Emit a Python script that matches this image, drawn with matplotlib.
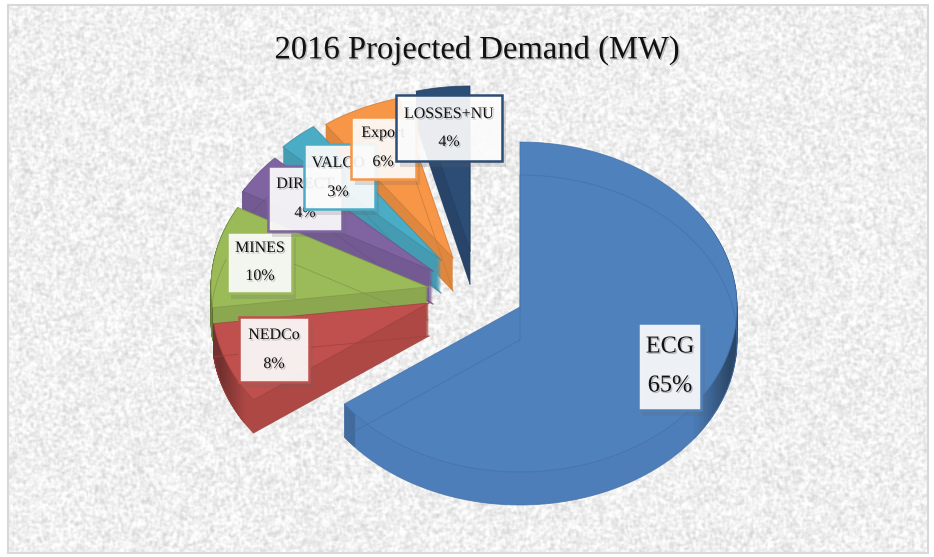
import numpy as np
import matplotlib
matplotlib.use('Agg')
import matplotlib.pyplot as plt
import matplotlib.patheffects as pe
from matplotlib.colors import to_rgb
from matplotlib.patches import Polygon, Rectangle

labels = ['ECG', 'NEDCo', 'MINES', 'DIRECT', 'VALCO', 'Export', 'LOSSES+NU']
shares = [65, 8, 10, 4, 3, 6, 4]
colors = ['#4f81bd', '#c0504d', '#9bbb59', '#8064a2', '#4bacc6', '#f79646', '#2c4d75']
# apex of each exploded slice, in pixels
apex_x = [520, 429, 428, 433, 441, 453, 470]
apex_y = [307, 303, 287, 271, 260, 258, 251]
box_x0 = [638, 239, 227, 268, 304, 351, 396]
box_x1 = [701, 309, 292, 342, 375, 416, 502]
box_y0 = [323, 317, 232, 166, 144, 117, 95]
box_y1 = [410, 382, 293, 231, 209, 179, 161]
text_x = [670, 274, 260, 305, 338, 383, 449]
name_y = [347, 335, 248, 184, 163, 133, 114]
pct_y = [386, 364, 276, 213, 192, 162, 142]

RX, RY = 217, 165
DEPTH = 33
FONT = ['Liberation Serif', 'DejaVu Serif']


def shade(c, f):
    return tuple(min(1, v * f) for v in to_rgb(c))


def blur(a, n):
    for _ in range(n):
        a = (a + np.roll(a, 1, 0) + np.roll(a, -1, 0) + np.roll(a, 1, 1) + np.roll(a, -1, 1)) / 5
    return a


def slice_points(cx, cy, a0, a1):
    t = np.radians(np.linspace(a0, a1, 160))
    xs = cx + RX * np.sin(t)
    ys = cy - RY * np.cos(t)
    return np.r_[cx, xs], np.r_[cy, ys]


def outline(xs, ys, c, z):
    # the slices look see-through: both disks show as thin lines
    for d in [0, DEPTH]:
        ax.plot(np.r_[xs, xs[0]], np.r_[ys, ys[0]] + d, color=c, lw=0.7, alpha=0.75, zorder=z)


def side_faces(xs, ys, side, z):
    for d in range(DEPTH, 0, -1):
        ax.add_patch(Polygon(np.c_[xs, ys + d], fc=side, ec='none', zorder=z))


def dark_arc(xs, ys, j, side, dark, mix, z):
    edge = tuple(np.array(side) * (1 - mix) + np.array(dark) * mix)
    quad = [(xs[j], ys[j]), (xs[j + 1], ys[j + 1]), (xs[j + 1], ys[j + 1] + DEPTH), (xs[j], ys[j] + DEPTH)]
    ax.add_patch(Polygon(quad, fc=edge, ec=edge, lw=0.5, zorder=z))


fig = plt.figure(figsize=(9.34, 5.57), dpi=100, facecolor='white')
ax = fig.add_axes([0, 0, 1, 1])

# paper texture of the plot area (decoration only, not data)
rng = np.random.RandomState(7)
noise = blur(rng.rand(411, 690), 1)
noise = (noise - noise.mean()) / noise.std()
tex = np.clip(0.94 + 0.04 * noise, 0.66, 1)
ax.imshow(tex, cmap='gray', vmin=0, vmax=1, extent=(8, 928, 553, 5), aspect='auto', zorder=0, interpolation='bilinear')
ax.set_xlim(0, 934)
ax.set_ylim(557, 0)
ax.axis('off')
ax.add_patch(Rectangle((8, 5), 920, 548, fc='none', ec='#d8d8d8', lw=1.5, zorder=1))

fractions = np.cumsum([0] + shares) / sum(shares) * 360
z = 2

# small slices, back to front
for i in [6, 5, 4, 3, 2, 1]:
    xs, ys = slice_points(apex_x[i], apex_y[i], fractions[i], fractions[i + 1])
    side = shade(colors[i], 0.9)
    side_faces(xs, ys, side, z)
    for j in range(1, len(xs) - 1):
        mix = np.clip((245 - xs[j]) / 25, 0, 1)
        if mix > 0:
            dark_arc(xs, ys, j, side, shade(colors[i], 0.6), mix, z)
    ax.add_patch(Polygon(np.c_[xs, ys], fc=colors[i], ec='none', zorder=z))
    outline(xs, ys, shade(colors[i], 0.82), z)
    z += 1

# the big slice
xs, ys = slice_points(apex_x[0], apex_y[0], fractions[0], fractions[1])
side = shade(colors[0], 0.98)
side_faces(xs, ys, side, z)
for j in range(1, len(xs) - 1):
    mix = np.clip((xs[j] - 695) / 35, 0, 1)
    if xs[j] < 356:
        mix = 0.35
    if mix > 0:
        dark_arc(xs, ys, j, side, shade(colors[0], 0.55), mix, z)
ax.add_patch(Polygon(np.c_[xs, ys], fc=colors[0], ec='none', zorder=z))
outline(xs, ys, shade(colors[0], 0.88), z)
z += 1

shadow = [pe.SimplePatchShadow(offset=(1, -1), shadow_rgbFace='#666666', alpha=0.4), pe.Normal()]
box_shadow = [pe.SimplePatchShadow(offset=(3, -4), shadow_rgbFace='#666666', alpha=0.2), pe.Normal()]

# data labels, later ones sit over earlier ones
for i in [1, 2, 3, 4, 5, 6, 0]:
    size = 17.5 if i == 0 else 11.5
    ax.add_patch(Rectangle((box_x0[i], box_y0[i]), box_x1[i] - box_x0[i], box_y1[i] - box_y0[i],
                           fc=(1, 1, 1, 0.9), ec=colors[i], lw=1.8, zorder=z, path_effects=box_shadow))
    ax.text(text_x[i], name_y[i], labels[i], ha='center', va='center', fontsize=size, family=FONT,
            color='#111111', zorder=z + 1, path_effects=shadow)
    ax.text(text_x[i], pct_y[i], '%d%%' % shares[i], ha='center', va='center', fontsize=size, family=FONT,
            color='#111111', zorder=z + 1, path_effects=shadow)
    z += 2

ax.text(477, 50, '2016 Projected Demand (MW)', ha='center', va='center', fontsize=23.5, family=FONT,
        color='#111111', zorder=z, path_effects=shadow)

fig.savefig('out.png', dpi=100)
